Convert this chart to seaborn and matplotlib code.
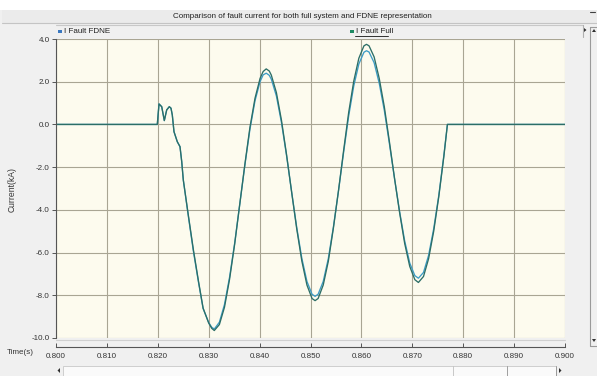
import matplotlib
matplotlib.use("Agg")
import matplotlib.pyplot as plt
import pandas as pd
import seaborn as sns
from matplotlib.patches import Rectangle, Polygon
from matplotlib.lines import Line2D

# ---- data -------------------------------------------------------------
time_s = [
    0.800, 0.8199, 0.82024, 0.82077, 0.82128, 0.82175, 0.82226, 0.82259, 0.82285, 0.82318,
    0.82383, 0.82436, 0.82470, 0.82501, 0.8260, 0.8270, 0.8280, 0.8289, 0.8300, 0.8306,
    0.8311, 0.8321, 0.8331, 0.8341, 0.8351, 0.8361, 0.8371, 0.8381, 0.8391, 0.8401, 0.8407,
    0.8413, 0.8419, 0.8423, 0.8433, 0.8443, 0.8453, 0.8463, 0.8473, 0.8483, 0.8493, 0.8503,
    0.8509, 0.8515, 0.8525, 0.8535, 0.8545, 0.8555, 0.8565, 0.8575, 0.8585, 0.8595, 0.8605,
    0.8610, 0.8615, 0.8625, 0.8635, 0.8645, 0.8655, 0.8665, 0.8675, 0.8685, 0.8695, 0.8705,
    0.8712, 0.8722, 0.8732, 0.8742, 0.8752, 0.8762, 0.8769, 0.900,
]

i_fault_full = [
    0.0, 0.0, 0.96, 0.83, 0.18, 0.68, 0.83, 0.76, 0.44, -0.34,
    -0.81, -1.04, -1.74, -2.60, -4.25, -5.88, -7.35, -8.60, -9.30, -9.55,
    -9.65, -9.37, -8.56, -7.25, -5.61, -3.74, -1.88, -0.14, 1.23, 2.16, 2.48,
    2.60, 2.50, 2.31, 1.49, 0.19, -1.42, -3.18, -4.90, -6.40, -7.52, -8.15,
    -8.25, -8.15, -7.52, -6.41, -4.85, -3.10, -1.23, 0.56, 2.03, 3.10, 3.68,
    3.75, 3.68, 3.16, 2.16, 0.83, -0.80, -2.51, -4.12, -5.57, -6.65, -7.27,
    -7.40, -7.12, -6.29, -5.01, -3.39, -1.50, 0.0, 0.0,
]

i_fault_fdne = [
    0.0, 0.0, 0.96, 0.83, 0.18, 0.68, 0.83, 0.76, 0.44, -0.34,
    -0.81, -1.04, -1.74, -2.60, -4.30, -5.95, -7.40, -8.62, -9.28, -9.50,
    -9.58, -9.26, -8.43, -7.15, -5.56, -3.74, -1.92, -0.23, 1.11, 2.01, 2.32,
    2.40, 2.30, 2.12, 1.33, 0.08, -1.47, -3.17, -4.83, -6.27, -7.35, -7.95,
    -8.05, -7.95, -7.35, -6.28, -4.80, -3.11, -1.32, 0.39, 1.80, 2.83, 3.38,
    3.45, 3.39, 2.89, 1.93, 0.66, -0.90, -2.52, -4.07, -5.45, -6.49, -7.08,
    -7.20, -6.93, -6.13, -4.89, -3.33, -1.45, 0.0, 0.0,
]

series_names = ["I Fault FDNE", "I Fault Full"]
series_colors = ["#3d9cc6", "#2c6e66"]
legend_colors = ["#3a78c0", "#1e8a64"]

x_ticks = [0.800, 0.810, 0.820, 0.830, 0.840, 0.850, 0.860, 0.870, 0.880, 0.890, 0.900]
x_tick_labels = ["0.800", "0.810", "0.820", "0.830", "0.840", "0.850",
                 "0.860", "0.870", "0.880", "0.890", "0.900"]
y_ticks = [4.0, 2.0, 0.0, -2.0, -4.0, -6.0, -8.0, -10.0]
y_tick_labels = ["4.0", "2.0", "0.0", "-2.0", "-4.0", "-6.0", "-8.0", "-10.0"]

title_text = "Comparison of fault current for both full system and FDNE representation"

# ---- long-form table ----------------------------------------------------
df = pd.concat([
    pd.DataFrame({"Time(s)": time_s, "Current(kA)": i_fault_fdne, "Series": series_names[0]}),
    pd.DataFrame({"Time(s)": time_s, "Current(kA)": i_fault_full, "Series": series_names[1]}),
], ignore_index=True)

sns.set_style("ticks")
plt.rcParams["font.family"] = ["Liberation Sans", "DejaVu Sans"]

W, H = 597, 376
fig = plt.figure(figsize=(W / 100, H / 100), dpi=100, facecolor="#f0f0f0")


def fx(x):
    return x / W


def fy(y):
    return 1 - y / H


def frame_rect(x0, y0, x1, y1, **kw):
    fig.add_artist(Rectangle((fx(x0), fy(y1)), fx(x1) - fx(x0), fy(y0) - fy(y1),
                             transform=fig.transFigure, **kw))


def frame_line(xs, ys, **kw):
    fig.add_artist(Line2D([fx(v) for v in xs], [fy(v) for v in ys],
                          transform=fig.transFigure, **kw))


def frame_tri(pts, color="#303030"):
    fig.add_artist(Polygon([(fx(a), fy(b)) for a, b in pts], closed=True,
                           transform=fig.transFigure, facecolor=color, edgecolor="none"))


# window chrome: white strip, title bar, legend bar
frame_rect(0, 0, W, 10, facecolor="white", edgecolor="none")
frame_rect(2, 10, W, 23, facecolor="#ebebeb", edgecolor="none")
frame_line([2, W], [23, 23], color="#c4c4c4", lw=0.8)
frame_line([56, 583], [24.5, 24.5], color="#c8c8c8", lw=0.8)
frame_line([583, 583], [24.5, 37], color="#b0b0b0", lw=0.8)

fig.text(fx(302), fy(17), title_text, ha="center", va="center", fontsize=5.8, color="#202020")

# legend entries
legend_pos = [(58, 64), (350, 356)]
for (sx, tx), name, col in zip(legend_pos, series_names, legend_colors):
    frame_rect(sx, 29.5, sx + 4, 33, facecolor=col, edgecolor="none")
    fig.text(fx(tx), fy(31.5), name, ha="left", va="center", fontsize=5.8, color="#202020")
frame_line([355, 388], [36, 36], color="#303030", lw=0.7)

# ---- plot area ----------------------------------------------------------
ax = fig.add_axes([fx(56), fy(338), (565 - 56) / W, (338 - 39) / H])
ax.set_facecolor("#fdfbee")

sns.lineplot(data=df, x="Time(s)", y="Current(kA)", hue="Series",
             hue_order=series_names, palette=series_colors,
             estimator=None, sort=False, legend=False, linewidth=0.95, ax=ax)

ax.set_xlim(0.800, 0.900)
ax.set_ylim(-10.0, 4.0)
ax.set_xticks(x_ticks)
ax.set_xticklabels(x_tick_labels)
ax.set_yticks(y_ticks)
ax.set_yticklabels(y_tick_labels)
ax.grid(True, color="#a9a593", lw=0.8)
ax.set_axisbelow(True)
ax.set_xlabel("")
ax.set_ylabel("")

for side in ("top", "right"):
    ax.spines[side].set_visible(False)
ax.spines["left"].set_color("#555555")
ax.spines["left"].set_linewidth(0.8)
ax.spines["bottom"].set_position(("outward", 6.5))
ax.spines["bottom"].set_color("#555555")
ax.spines["bottom"].set_linewidth(0.8)

ax.tick_params(axis="y", direction="out", length=3, width=0.7, colors="#555555",
               labelsize=5.8, labelcolor="#333333", pad=1.5)
ax.tick_params(axis="x", direction="in", length=3, width=0.7, colors="#555555",
               labelsize=5.8, labelcolor="#333333", pad=4)

# band below the plot area
frame_line([56, 565], [339.5, 339.5], color="#d0d0d0", lw=0.8)

fig.text(fx(12), fy(190), "Current(kA)", rotation=90, ha="center", va="center",
         fontsize=6.2, color="#333333")
fig.text(fx(7), fy(352), "Time(s)", ha="left", va="center", fontsize=5.8, color="#333333")

# right scroll bar
frame_line([590, 590], [27, 346], color="#9a9a9a", lw=0.8)
frame_line([590, 597], [27, 27], color="#9a9a9a", lw=0.8)
frame_line([590, 597], [346, 346], color="#9a9a9a", lw=0.8)
frame_tri([(592, 32), (596, 32), (594, 29)])
frame_tri([(592, 339), (596, 339), (594, 342)])
frame_tri([(584, 28), (584, 32), (586.5, 30)])
frame_line([590, 595], [12, 12], color="#404040", lw=0.8)

# bottom scroll bar
frame_rect(63, 366, 556, 376, facecolor="#fafafa", edgecolor="#c8c8c8", lw=0.6)
frame_line([453, 453], [366, 376], color="#c0c0c0", lw=0.6)
frame_line([507, 507], [366, 376], color="#909090", lw=0.6)
frame_tri([(60, 368), (60, 373), (57.5, 370.5)])
frame_tri([(559, 368), (559, 373), (561.5, 370.5)])
frame_line([556, 556], [366, 376], color="#909090", lw=0.6)

fig.savefig("out.png", dpi=100, facecolor=fig.get_facecolor())
